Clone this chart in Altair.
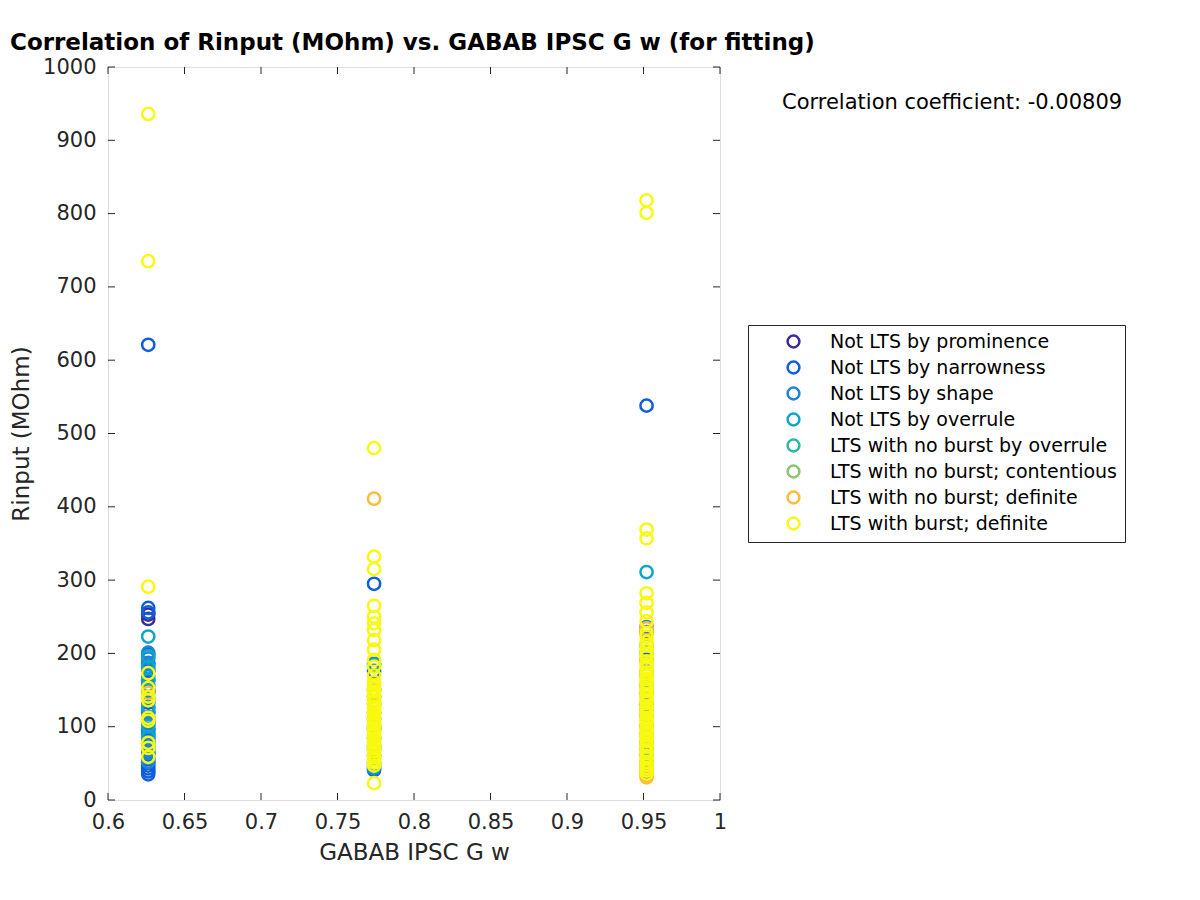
import altair as alt
import pandas as pd

CATEGORIES = [
    "Not LTS by prominence",
    "Not LTS by narrowness",
    "Not LTS by shape",
    "Not LTS by overrule",
    "LTS with no burst by overrule",
    "LTS with no burst; contentious",
    "LTS with no burst; definite",
    "LTS with burst; definite",
]
COLORS = ["#3D2A9C", "#0F5EDC", "#1C85D8", "#0BA6C9", "#2DB99F", "#8DC373", "#FDBC3C", "#F9F90F"]

GW = [0.6263, 0.7739, 0.952]  # GABAB IPSC G w levels

# Rinput values (MOhm) per category, per G w level [left, middle, right]
prominence = [[247, 253], [], [229]]
narrowness = [
    [621, 262, 256, 199, 186, 176, 163, 147, 133, 119, 107, 97, 89, 81, 72, 63, 56, 51, 47, 43, 39, 35],
    [295, 176, 141, 119, 97, 73, 41],
    [538, 191, 156, 131, 101, 79, 51, 38],
]
shape = [
    [201, 193, 187, 179, 169, 157, 149, 139, 126, 121, 113, 103, 95, 91, 84, 77, 68, 64, 57, 52],
    [186, 151, 111, 84, 61, 50, 43],
    [236, 211, 174, 146, 116, 89, 61, 45],
]
overrule = [
    [223, 196, 182, 164, 151, 127, 101, 86],
    [184, 131, 99, 69, 46],
    [311, 201, 171, 124, 70],
]
nb_overrule = [[], [], []]
nb_contentious = [[], [], []]
nb_definite = [[146], [411, 149, 128], [234, 41, 34, 31]]
burst = [
    [936, 735, 291, 173, 153, 141, 136, 112, 108, 78, 71, 59],
    [480, 332, 315, 265, 250, 241, 232, 218, 205, 191, 182, 170, 161, 157, 152, 148, 143, 140, 135,
     132, 127, 124, 120, 118, 113, 110, 106, 103, 99, 95, 92, 89, 84, 81, 78, 73, 70, 66, 61, 58,
     55, 51, 47, 23],
    [818, 801, 369, 357, 282, 269, 256, 244, 228, 223, 216, 211, 204, 199, 195, 189, 185, 179, 174,
     170, 165, 161, 157, 152, 149, 144, 140, 137, 132, 128, 125, 120, 117, 112, 108, 105, 100, 96,
     93, 88, 85, 80, 76, 73, 68, 65, 60, 57, 52, 48, 44, 40, 36],
]
GROUPS = [prominence, narrowness, shape, overrule, nb_overrule, nb_contentious, nb_definite, burst]

CORR_COEF = "-0.00809"
X_TICKS = [0.6, 0.65, 0.7, 0.75, 0.8, 0.85, 0.9, 0.95, 1.0]
Y_TICKS = [0, 100, 200, 300, 400, 500, 600, 700, 800, 900, 1000]

rows = []
order = 0
for cat, grp in zip(CATEGORIES, GROUPS):
    for gw, vals in zip(GW, grp):
        for v in vals:
            rows.append({"gw": gw, "rin": v, "cat": cat, "ord": order})
            order += 1
df = pd.DataFrame(rows)

W, H = 612, 733
AX = "#262626"
FONT = "DejaVu Sans"

xscale = alt.Scale(domain=[0.6, 1.0], nice=False, zero=False)
yscale = alt.Scale(domain=[0, 1000], nice=False)

xaxis = alt.Axis(values=X_TICKS, format="~g", title="GABAB IPSC G w", ticks=False, domain=False,
                 grid=False, labelFontSize=21, titleFontSize=23, labelPadding=11, titlePadding=9,
                 labelFlush=False, labelOverlap=False,
                 labelColor=AX, titleColor=AX, titleFontWeight="normal", labelFont=FONT, titleFont=FONT)
yaxis = alt.Axis(values=Y_TICKS, format="d", title="Rinput (MOhm)", ticks=False, domain=False,
                 grid=False, labelFontSize=21, titleFontSize=23, labelPadding=12, titlePadding=9,
                 labelFlush=False, labelOverlap=False,
                 labelColor=AX, titleColor=AX, titleFontWeight="normal", labelFont=FONT, titleFont=FONT)

points = alt.Chart(df).mark_point(filled=False, size=150, strokeWidth=2.5, opacity=1).encode(
    x=alt.X("gw:Q", scale=xscale, axis=xaxis),
    y=alt.Y("rin:Q", scale=yscale, axis=yaxis),
    color=alt.Color("cat:N", scale=alt.Scale(domain=CATEGORIES, range=COLORS),
                    legend=alt.Legend(orient="none", legendX=640, legendY=258, title=None,
                                      symbolType="circle", symbolSize=140, symbolStrokeWidth=2.5,
                                      symbolFillColor="transparent",
                                      labelFontSize=19, labelFont=FONT, labelColor="#000000",
                                      strokeColor=AX, fillColor="white", padding=7,
                                      rowPadding=3, symbolOffset=29, labelOffset=27, labelLimit=400)),
    order=alt.Order("ord:Q"),
)

xt = pd.DataFrame({"v": X_TICKS})
yt = pd.DataFrame({"v": Y_TICKS})
tick_b = alt.Chart(xt).mark_rule(color=AX, strokeWidth=1).encode(
    x=alt.X("v:Q", scale=xscale, axis=xaxis), y=alt.value(H - 7), y2=alt.value(H))
tick_t = alt.Chart(xt).mark_rule(color=AX, strokeWidth=1).encode(
    x=alt.X("v:Q", scale=xscale, axis=xaxis), y=alt.value(0), y2=alt.value(7))
tick_l = alt.Chart(yt).mark_rule(color=AX, strokeWidth=1).encode(
    y=alt.Y("v:Q", scale=yscale, axis=yaxis), x=alt.value(0), x2=alt.value(7))
tick_r = alt.Chart(yt).mark_rule(color=AX, strokeWidth=1).encode(
    y=alt.Y("v:Q", scale=yscale, axis=yaxis), x=alt.value(W - 7), x2=alt.value(W))

ann = alt.Chart(pd.DataFrame({"t": ["Correlation coefficient: " + CORR_COEF]})).mark_text(
    align="left", baseline="middle", fontSize=21, font=FONT, color="#000000"
).encode(x=alt.value(674), y=alt.value(36), text="t:N")

chart = alt.layer(points, tick_b, tick_t, tick_l, tick_r, ann).properties(
    width=W, height=H,
    title=alt.TitleParams("Correlation of Rinput (MOhm) vs. GABAB IPSC G w (for fitting)",
                          anchor="start", frame="group", dx=-98, dy=5, fontSize=23, font=FONT,
                          fontWeight="bold", color="#000000", offset=6),
    autosize=alt.AutoSizeParams(type="none"),
    padding={"left": 100, "top": 59, "right": 472, "bottom": 92},
).configure_view(stroke=AX, strokeWidth=1).configure(background="white")

chart.save("out.html", embed_options={"renderer": "svg", "actions": False})
